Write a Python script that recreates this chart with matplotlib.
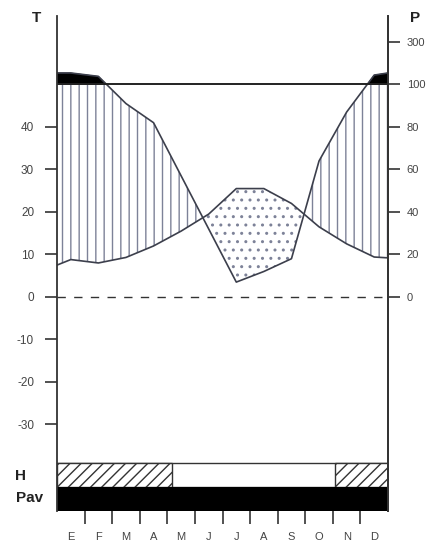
import numpy as np
import matplotlib.pyplot as plt

# month labels (Spanish initials) and data positions (edges + month centres)
months = ['E', 'F', 'M', 'A', 'M', 'J', 'J', 'A', 'S', 'O', 'N', 'D']
x_pts = [0, 0.5, 1.5, 2.5, 3.5, 4.5, 5.5, 6.5, 7.5, 8.5, 9.5, 10.5, 11.5, 12]

# mean temperature (C) and precipitation (mm), edge values first/last
temp = [7.5, 8.8, 8.0, 9.3, 12.0, 15.5, 19.5, 25.5, 25.5, 22.0, 16.5, 12.5, 9.4, 9.2]
prec = [154, 154, 138, 91, 82, 57, 32, 7, 12, 18, 64, 87, 144, 154]

# frost period (H) as month intervals
frost = [(0, 4.16), (10.08, 12)]

left_ticks = [-30, -20, -10, 0, 10, 20, 30, 40]
right_ticks = [0, 20, 40, 60, 80, 100, 300]


def p_scale(p):
    # Walter-Lieth: 10 C = 20 mm up to 100 mm, then 1:10 compression
    p = np.asarray(p, dtype=float)
    return np.where(p <= 100, p / 2.0, 50 + (p - 100) / 20.0)


def p_pos(v):
    return float(p_scale([v])[0])


plt.rcParams['font.family'] = ['Liberation Sans', 'DejaVu Sans']
plt.rcParams['hatch.linewidth'] = 1.0

fig = plt.figure(figsize=(4.42, 5.44), dpi=100)
ax = fig.add_axes([57 / 442, 33 / 544, 331 / 442, 495 / 544])

line_col = '#3c3f4c'
hatch_col = '#7d8298'
text_col = '#444444'

x = np.linspace(0, 12, 1201)
t = np.interp(x, x_pts, temp)
p = np.interp(x, x_pts, p_scale(prec))
p_low = np.minimum(p, 50)

# humid period: vertical hatching
ax.fill_between(x, t, p_low, where=p_low >= t, interpolate=True,
                facecolor='none', edgecolor=hatch_col, hatch='||', linewidth=0)
# arid period: dots
ax.fill_between(x, p, t, where=t >= p, interpolate=True,
                facecolor='none', edgecolor=hatch_col, hatch='..', linewidth=0)
# very humid (>100 mm): black
ax.fill_between(x, 50, p, where=p >= 50, interpolate=True,
                facecolor='black', edgecolor='black', linewidth=0.5)

ax.plot(x_pts, temp, color=line_col, lw=1.2)
ax.plot(x_pts, p_scale(prec), color=line_col, lw=1.2)
ax.axhline(50, color='#222222', lw=1.4)
ax.axhline(0, color='#333333', lw=1.0, dashes=(6, 6))

# H bar (frost) and Pav bar
h_top, h_bot, pav_bot = -39.06, -44.7, -50.35
ax.add_patch(plt.Rectangle((0, h_bot), 12, h_top - h_bot, facecolor='white',
                           edgecolor='#333333', lw=1.0))
for a, b in frost:
    ax.add_patch(plt.Rectangle((a, h_bot), b - a, h_top - h_bot,
                               facecolor='white', edgecolor='#333333',
                               hatch='///', lw=1.0))
ax.add_patch(plt.Rectangle((0, pav_bot), 12, h_bot - pav_bot,
                           facecolor='black', edgecolor='black', lw=0))

ax.set_xlim(0, 12)
ax.set_ylim(pav_bot, 66.1)

for s in ['top', 'bottom']:
    ax.spines[s].set_visible(False)
for s in ['left', 'right']:
    ax.spines[s].set_color('#333333')
    ax.spines[s].set_linewidth(1.3)

# left temperature axis
ax.set_yticks(left_ticks)
ax.set_yticklabels([str(v) for v in left_ticks], fontsize=8.5, color=text_col)
ax.tick_params(axis='y', direction='out', length=8.5, width=1.2,
               color='#333333', pad=8)

# month boundaries as ticks, labels at centres
ax.set_xticks(np.arange(1, 12))
ax.set_xticklabels([])
ax.set_xticks(np.arange(12) + 0.5, minor=True)
ax.set_xticklabels(months, minor=True, fontsize=8, color=text_col)
ax.tick_params(axis='x', which='major', direction='out', length=9,
               width=1.2, color='#333333')
ax.tick_params(axis='x', which='minor', length=0, pad=15)

# right precipitation axis
ax2 = ax.twinx()
ax2.set_ylim(ax.get_ylim())
ax2.set_yticks([p_pos(v) for v in right_ticks])
ax2.set_yticklabels([str(v) for v in right_ticks], fontsize=8, color=text_col)
ax2.tick_params(axis='y', direction='out', length=8.5, width=1.2,
                color='#333333', pad=5)
for s in ['top', 'bottom', 'left']:
    ax2.spines[s].set_visible(False)
ax2.spines['right'].set_color('#333333')
ax2.spines['right'].set_linewidth(1.3)

fig.text(37 / 442, 1 - 18 / 544, 'T', fontsize=11, fontweight='bold',
         ha='center', va='center', color='#222222')
fig.text(415 / 442, 1 - 18 / 544, 'P', fontsize=11, fontweight='bold',
         ha='center', va='center', color='#222222')
fig.text(20 / 442, 1 - 476 / 544, 'H', fontsize=11, fontweight='bold',
         ha='center', va='center', color='#222222')
fig.text(30 / 442, 1 - 498 / 544, 'Pav', fontsize=11, fontweight='bold',
         ha='center', va='center', color='#222222')

fig.savefig('out.png', dpi=100)
